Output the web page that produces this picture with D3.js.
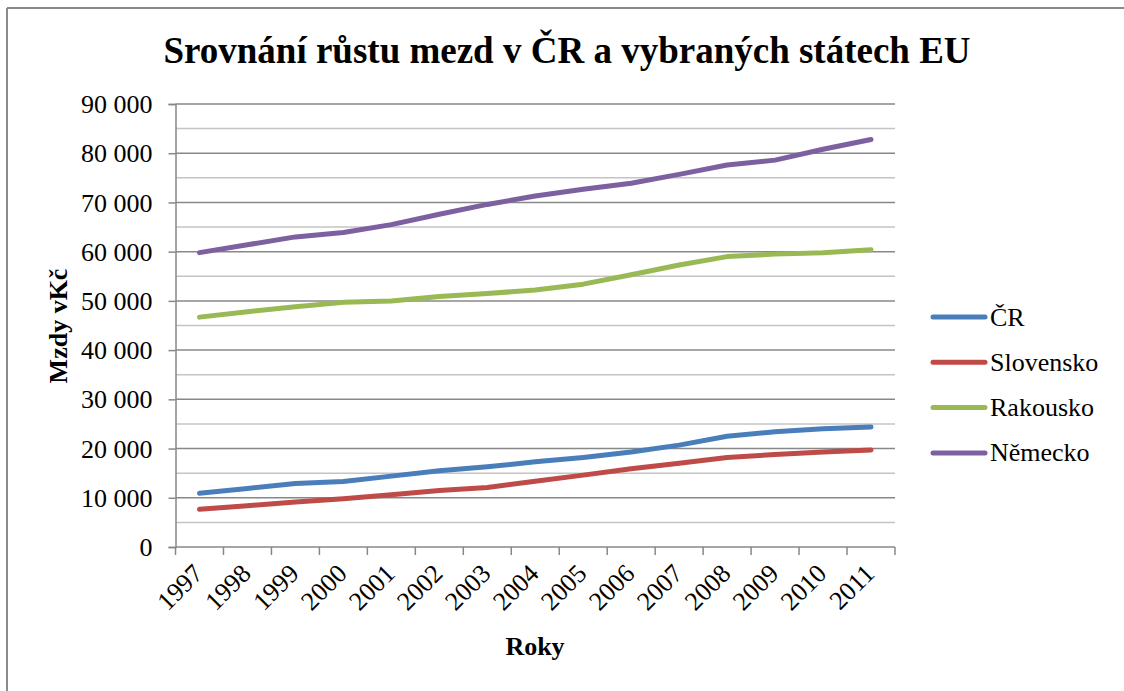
<!DOCTYPE html>
<html>
<head>
<meta charset="utf-8">
<script src="https://cdn.jsdelivr.net/npm/d3@7"></script>
<style>
  html, body { margin: 0; padding: 0; background: #fff; }
  svg { display: block; font-family: "Liberation Serif", "Times New Roman", serif; }
</style>
</head>
<body>
<svg id="chart" width="1124" height="691"></svg>
<script>
const years = ["1997","1998","1999","2000","2001","2002","2003","2004","2005","2006","2007","2008","2009","2010","2011"];
const seriesNames = ["ČR", "Slovensko", "Rakousko", "Německo"];
const valuesCR = [10900, 11900, 12900, 13300, 14400, 15500, 16300, 17300, 18200, 19300, 20700, 22500, 23400, 24000, 24400];
const valuesSK = [7650, 8400, 9150, 9800, 10600, 11500, 12100, 13350, 14600, 15900, 17000, 18200, 18800, 19300, 19700];
const valuesAT = [46700, 47800, 48800, 49700, 50000, 50900, 51500, 52200, 53400, 55300, 57300, 59000, 59500, 59800, 60400];
const valuesDE = [59800, 61400, 63000, 63900, 65500, 67600, 69600, 71300, 72700, 73900, 75700, 77600, 78600, 80800, 82800];
const seriesColors = ["#4a7ebb", "#be4b48", "#98b954", "#7d60a0"];
const yTicks = [0, 10000, 20000, 30000, 40000, 50000, 60000, 70000, 80000, 90000];
const yMinorTicks = [5000, 15000, 25000, 35000, 45000, 55000, 65000, 75000, 85000];
const titleText = "Srovnání růstu mezd v ČR a vybraných státech EU";
const yTitle = "Mzdy vKč";
const xTitle = "Roky";

const allSeries = [valuesCR, valuesSK, valuesAT, valuesDE];

const svg = d3.select("#chart");
const plotLeft = 175.5, plotRight = 895, plotTop = 104, plotBottom = 547;

// outer border (top and left)
svg.append("line").attr("x1", 7).attr("x2", 1124).attr("y1", 8).attr("y2", 8)
  .attr("stroke", "#8a8a8a").attr("stroke-width", 2);
svg.append("line").attr("x1", 7).attr("x2", 7).attr("y1", 8).attr("y2", 691)
  .attr("stroke", "#8a8a8a").attr("stroke-width", 2);

const x = d3.scaleBand().domain(years).range([plotLeft, plotRight]).padding(0);
const y = d3.scaleLinear().domain([0, 90000]).range([plotBottom, plotTop]);

// minor gridlines
svg.append("g").selectAll("line").data(yMinorTicks).join("line")
  .attr("x1", plotLeft).attr("x2", plotRight)
  .attr("y1", d => y(d)).attr("y2", d => y(d))
  .attr("stroke", "#c4c4c4").attr("stroke-width", 1.5);

// major gridlines
svg.append("g").selectAll("line").data(yTicks.filter(d => d > 0)).join("line")
  .attr("x1", plotLeft).attr("x2", plotRight)
  .attr("y1", d => y(d)).attr("y2", d => y(d))
  .attr("stroke", "#888888").attr("stroke-width", 1.5);

// y axis
const yAxis = d3.axisLeft(y).tickValues(yTicks).tickSize(7).tickPadding(16)
  .tickFormat(d => d3.format(",")(d).replace(/,/g, "\u00a0"));
const gy = svg.append("g").attr("transform", `translate(${plotLeft},0)`).call(yAxis);
gy.select(".domain").attr("stroke", "#888888").attr("stroke-width", 1.5);
gy.selectAll(".tick line").attr("stroke", "#888888").attr("stroke-width", 1.5);
gy.selectAll(".tick text").attr("font-size", 26).attr("fill", "#000")
  .attr("font-family", "Liberation Serif, Times New Roman, serif").attr("dy", "0.33em");

// x axis line
svg.append("line").attr("x1", plotLeft).attr("x2", plotRight).attr("y1", plotBottom).attr("y2", plotBottom)
  .attr("stroke", "#888888").attr("stroke-width", 1.5);
// x tick marks at band boundaries
const boundaries = years.map(d => x(d)).concat([x(years[years.length - 1]) + x.bandwidth()]);
svg.append("g").selectAll("line").data(boundaries).join("line")
  .attr("x1", d => d).attr("x2", d => d)
  .attr("y1", plotBottom).attr("y2", plotBottom + 8)
  .attr("stroke", "#888888").attr("stroke-width", 1.5);

// x tick labels
svg.append("g").selectAll("text").data(years).join("text")
  .attr("transform", d => `translate(${x(d) + x.bandwidth() / 2 + 5},575) rotate(-45)`)
  .attr("text-anchor", "end")
  .attr("font-size", 26).attr("fill", "#000")
  .text(d => d);

// lines
const line = d3.line()
  .x((d, i) => x(years[i]) + x.bandwidth() / 2)
  .y(d => y(d));
svg.append("g").selectAll("path").data(allSeries).join("path")
  .attr("d", d => line(d))
  .attr("fill", "none")
  .attr("stroke", (d, i) => seriesColors[i])
  .attr("stroke-width", 5)
  .attr("stroke-linejoin", "round")
  .attr("stroke-linecap", "round");

// title
svg.append("text").attr("x", 567).attr("y", 63).attr("text-anchor", "middle")
  .attr("font-size", 37).attr("font-weight", "bold").attr("fill", "#000")
  .text(titleText);

// axis titles
svg.append("text").attr("transform", "translate(67,326) rotate(-90)")
  .attr("text-anchor", "middle").attr("font-size", 26).attr("font-weight", "bold")
  .attr("fill", "#000").text(yTitle);
svg.append("text").attr("x", 535).attr("y", 655)
  .attr("text-anchor", "middle").attr("font-size", 26).attr("font-weight", "bold")
  .attr("fill", "#000").text(xTitle);

// legend
const legend = svg.append("g").selectAll("g").data(seriesNames).join("g")
  .attr("transform", (d, i) => `translate(0,${317 + i * 45.3})`);
legend.append("line").attr("x1", 933).attr("x2", 985).attr("y1", 0).attr("y2", 0)
  .attr("stroke", (d, i) => seriesColors[i]).attr("stroke-width", 5)
  .attr("stroke-linecap", "round");
legend.append("text").attr("x", 990).attr("y", 0).attr("dy", "0.33em")
  .attr("font-size", 26).attr("fill", "#000").text(d => d);
</script>
</body>
</html>
